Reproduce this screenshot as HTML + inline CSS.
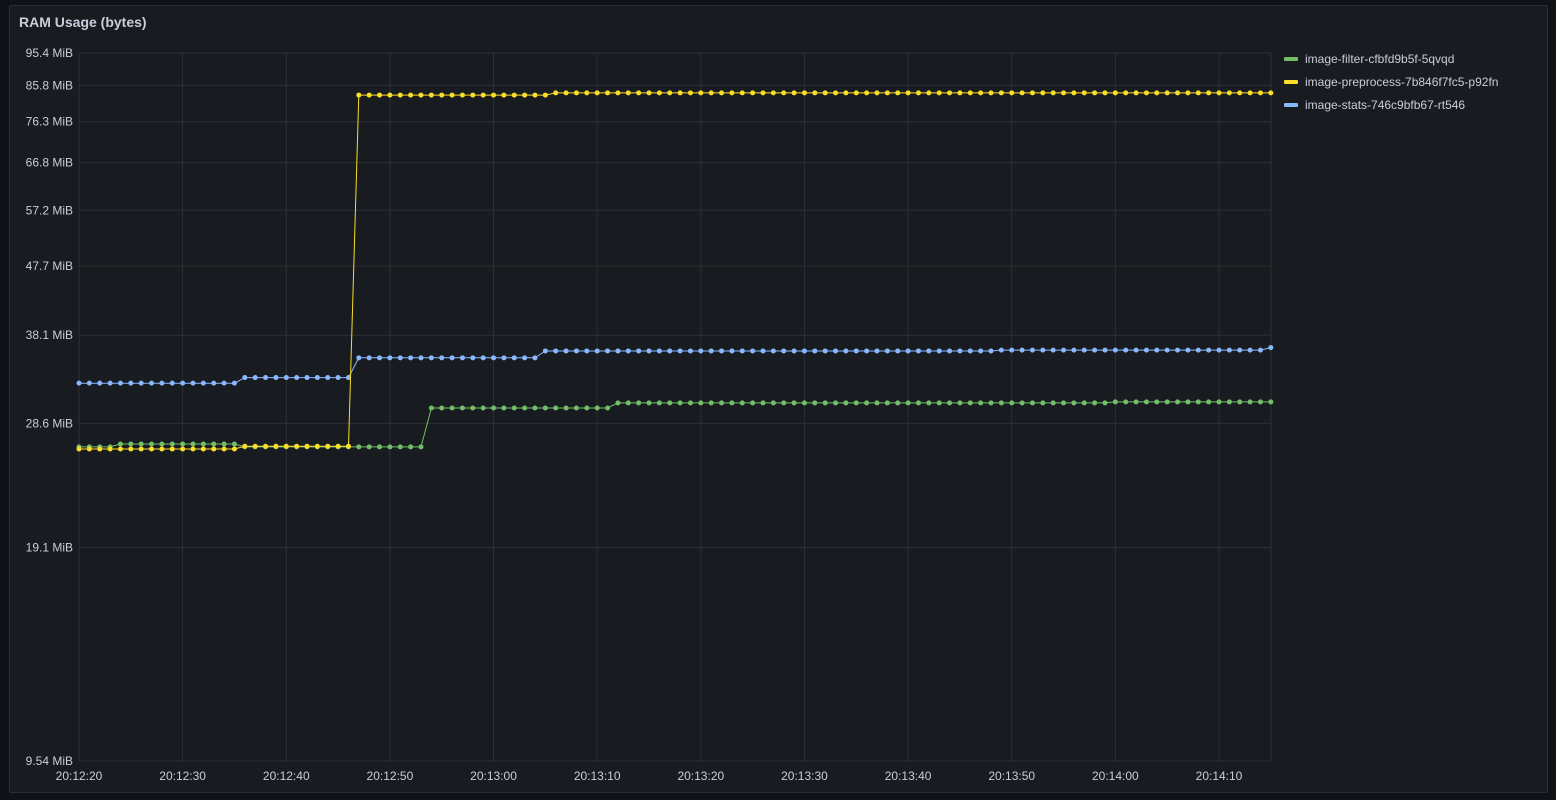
<!DOCTYPE html>
<html><head><meta charset="utf-8"><style>
html,body{margin:0;padding:0;background:#111217;width:1556px;height:800px;overflow:hidden;font-family:"Liberation Sans",sans-serif}
#panel{position:absolute;left:9px;top:5px;width:1537px;height:786px;background:#181b1f;border:1px solid #2a2d33;border-radius:2px}
#title{position:absolute;left:19px;top:14px;color:#ccccdc;font-size:14px;font-weight:bold}
svg{position:absolute;left:0;top:0}
</style></head><body>
<div id="panel"></div>
<div id="title">RAM Usage (bytes)</div>
<svg id="chart" width="1556" height="800"></svg>
<script>
const yTicks=[9.54,19.1,28.6,38.1,47.7,57.2,66.8,76.3,85.8,95.4];
const xTickLabels=["20:12:20","20:12:30","20:12:40","20:12:50","20:13:00","20:13:10","20:13:20","20:13:30","20:13:40","20:13:50","20:14:00","20:14:10"];
const seriesNames=["image-filter-cfbfd9b5f-5qvqd","image-preprocess-7b846f7fc5-p92fn","image-stats-746c9bfb67-rt546"];
const greenVals=[
26.5,26.5,26.5,26.5,26.75,26.75,26.75,26.75,26.75,26.75,
26.75,26.75,26.75,26.75,26.75,26.75,26.5,26.5,26.5,26.5,
26.5,26.5,26.5,26.5,26.5,26.5,26.5,26.5,26.5,26.5,
26.5,26.5,26.5,26.5,30.07,30.07,30.07,30.07,30.07,30.07,
30.07,30.07,30.07,30.07,30.07,30.07,30.07,30.07,30.07,30.07,
30.07,30.07,30.57,30.57,30.57,30.57,30.57,30.57,30.57,30.57,
30.57,30.57,30.57,30.57,30.57,30.57,30.57,30.57,30.57,30.57,
30.57,30.57,30.57,30.57,30.57,30.57,30.57,30.57,30.57,30.57,
30.57,30.57,30.57,30.57,30.57,30.57,30.57,30.57,30.57,30.57,
30.57,30.57,30.57,30.57,30.57,30.57,30.57,30.57,30.57,30.57,
30.67,30.67,30.67,30.67,30.67,30.67,30.67,30.67,30.67,30.67,
30.67,30.67,30.67,30.67,30.67,30.67];
const yellowVals=[
26.32,26.32,26.32,26.32,26.32,26.32,26.32,26.32,26.32,26.32,
26.32,26.32,26.32,26.32,26.32,26.32,26.55,26.55,26.55,26.55,
26.55,26.55,26.55,26.55,26.55,26.55,26.55,83.2,83.2,83.2,
83.2,83.2,83.2,83.2,83.2,83.2,83.2,83.2,83.2,83.2,
83.2,83.2,83.2,83.2,83.2,83.2,83.8,83.8,83.8,83.8,
83.8,83.8,83.8,83.8,83.8,83.8,83.8,83.8,83.8,83.8,
83.8,83.8,83.8,83.8,83.8,83.8,83.8,83.8,83.8,83.8,
83.8,83.8,83.8,83.8,83.8,83.8,83.8,83.8,83.8,83.8,
83.8,83.8,83.8,83.8,83.8,83.8,83.8,83.8,83.8,83.8,
83.8,83.8,83.8,83.8,83.8,83.8,83.8,83.8,83.8,83.8,
83.8,83.8,83.8,83.8,83.8,83.8,83.8,83.8,83.8,83.8,
83.8,83.8,83.8,83.8,83.8,83.8];
const blueVals=[
32.6,32.6,32.6,32.6,32.6,32.6,32.6,32.6,32.6,32.6,
32.6,32.6,32.6,32.6,32.6,32.6,33.2,33.2,33.2,33.2,
33.2,33.2,33.2,33.2,33.2,33.2,33.2,35.4,35.4,35.4,
35.4,35.4,35.4,35.4,35.4,35.4,35.4,35.4,35.4,35.4,
35.4,35.4,35.4,35.4,35.4,36.2,36.2,36.2,36.2,36.2,
36.2,36.2,36.2,36.2,36.2,36.2,36.2,36.2,36.2,36.2,
36.2,36.2,36.2,36.2,36.2,36.2,36.2,36.2,36.2,36.2,
36.2,36.2,36.2,36.2,36.2,36.2,36.2,36.2,36.2,36.2,
36.2,36.2,36.2,36.2,36.2,36.2,36.2,36.2,36.2,36.3,
36.3,36.3,36.3,36.3,36.3,36.3,36.3,36.3,36.3,36.3,
36.3,36.3,36.3,36.3,36.3,36.3,36.3,36.3,36.3,36.3,
36.3,36.3,36.3,36.3,36.3,36.6];

const NS="http://www.w3.org/2000/svg";
const svg=document.getElementById('chart');
const X0=79,X1=1271,Y0=53,Y1=761,PXS=(1219-79)/110;
const yMin=9.54,yMax=95.4;
function xs(t){return X0+t*PXS;}
function ys(v){return Y1-(Math.log10(v/yMin)/Math.log10(yMax/yMin))*(Y1-Y0);}
function mk(tag,attrs){const e=document.createElementNS(NS,tag);for(const k in attrs)e.setAttribute(k,attrs[k]);svg.appendChild(e);return e;}

yTicks.forEach((v,i)=>{
  const y=ys(v);
  const g=mk('line',{x1:X0,x2:X1,y1:y,y2:y,stroke:'#2c2f35','stroke-width':1});
  
  
  const t=mk('text',{x:73,y:y+4,'text-anchor':'end',fill:'#ccccdc','font-size':12,'font-family':'Liberation Sans, sans-serif'});
  t.textContent=(v<10?v.toFixed(2):v.toFixed(1))+' MiB';
  
  
});
xTickLabels.forEach((lab,i)=>{
  const x=xs(i*10);
  const g=mk('line',{x1:x,x2:x,y1:Y0,y2:Y1,stroke:'#2c2f35','stroke-width':1});
  
  
  const t=mk('text',{x:x,y:780,'text-anchor':'middle',fill:'#ccccdc','font-size':12,'font-family':'Liberation Sans, sans-serif'});
  t.textContent=lab;
  
  
});
const gr=mk('line',{x1:X1,x2:X1,y1:Y0,y2:Y1,stroke:'#2c2f35','stroke-width':1});



const series=[[greenVals,'#73bf69'],[blueVals,'#8ab8ff'],[yellowVals,'#fade2a']];
series.forEach(([vals,col])=>{
  const pts=vals.map((v,i)=>xs(i).toFixed(1)+','+ys(v).toFixed(1)).join(' ');
  const pl=mk('polyline',{points:pts,fill:'none',stroke:col,'stroke-width':1});
  
  
  vals.forEach((v,i)=>{
    const c=mk('circle',{cx:xs(i),cy:ys(v),r:2.5,fill:col});
    
    
  });
});

const legCols=['#73bf69','#fade2a','#8ab8ff'];
const legY=[59,82,105];
seriesNames.forEach((n,i)=>{
  const r=mk('rect',{x:1284,y:legY[i]-2,width:14,height:4,rx:1,fill:legCols[i]});
  
  
  const t=mk('text',{x:1305,y:legY[i]+4,fill:'#ccccdc','font-size':12,'font-family':'Liberation Sans, sans-serif'});
  t.textContent=n;
  
  
});
</script>
</body></html>
